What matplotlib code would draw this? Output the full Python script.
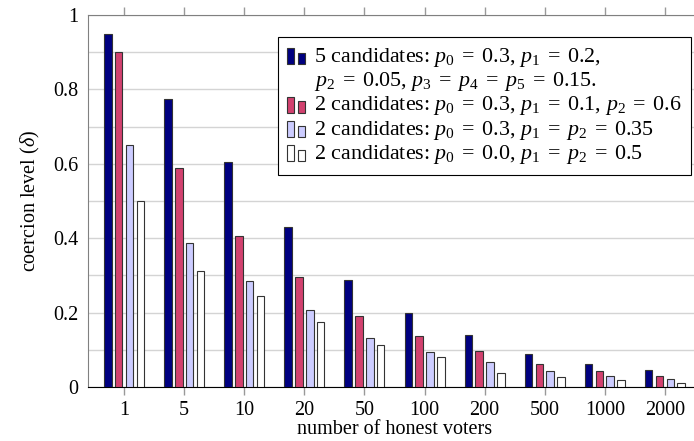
import matplotlib
matplotlib.use("Agg")
import matplotlib.pyplot as plt
from matplotlib.patches import Rectangle
from matplotlib.legend_handler import HandlerBase
from matplotlib.lines import Line2D
import numpy as np

# data
voters = ["1", "5", "10", "20", "50", "100", "200", "500", "1000", "2000"]
five_cand = [0.95, 0.774, 0.605, 0.431, 0.288, 0.198, 0.141, 0.089, 0.063, 0.046]
two_cand_a = [0.90, 0.588, 0.406, 0.297, 0.191, 0.137, 0.097, 0.062, 0.043, 0.030]
two_cand_b = [0.65, 0.386, 0.286, 0.208, 0.133, 0.095, 0.067, 0.043, 0.030, 0.021]
two_cand_c = [0.50, 0.312, 0.245, 0.176, 0.113, 0.081, 0.038, 0.026, 0.019, 0.012]

labels = [
    r"5 candidates: $p_0\;=\;0.3,\, p_1\;=\;0.2,$",
    r"$p_2\;=\;0.05,\, p_3\;=\;p_4\;=\;p_5\;=\;0.15.$",
    r"2 candidates: $p_0\;=\;0.3,\, p_1\;=\;0.1,\, p_2\;=\;0.6$",
    r"2 candidates: $p_0\;=\;0.3,\, p_1\;=\;p_2\;=\;0.35$",
    r"2 candidates: $p_0\;=\;0.0,\, p_1\;=\;p_2\;=\;0.5$",
]
colors = ["#000080", "#d2416f", "#ccccff", "#ffffff"]

plt.rcParams["font.family"] = "Liberation Serif"
plt.rcParams["mathtext.fontset"] = "custom"
plt.rcParams["mathtext.rm"] = "Liberation Serif"
plt.rcParams["mathtext.it"] = "Liberation Serif:italic"
plt.rcParams["mathtext.bf"] = "Liberation Serif:bold"

FS = 14.5


class TwoBars(HandlerBase):
    # pgfplots style legend image: two small bars
    def create_artists(self, legend, orig_handle, xdescent, ydescent,
                       width, height, fontsize, trans):
        fc = orig_handle.get_facecolor()
        ec = orig_handle.get_edgecolor()
        w = width * 0.36
        r1 = Rectangle((-xdescent, -ydescent - 0.15 * height), w, height * 1.05,
                       facecolor=fc, edgecolor=ec, lw=0.8, transform=trans)
        r2 = Rectangle((-xdescent + width * 0.6, -ydescent - 0.15 * height), w, height * 0.75,
                       facecolor=fc, edgecolor=ec, lw=0.8, transform=trans)
        return [r1, r2]


fig = plt.figure(figsize=(6.94, 4.41), dpi=100)
ax = fig.add_axes([88 / 694, 1 - 387 / 441, 613 / 694, 372 / 441])

x = np.arange(len(voters))
bw = 0.125
offs = [-0.27, -0.09, 0.09, 0.27]
series = [five_cand, two_cand_a, two_cand_b, two_cand_c]
bars = []
for s, off, c in zip(series, offs, colors):
    b = ax.bar(x + off, s, bw, color=c, edgecolor="#333333", linewidth=0.8, zorder=3)
    bars.append(b[0])

ax.set_xlim(-0.6, len(voters) - 0.4)
ax.set_ylim(0, 1)
ax.set_yticks(np.arange(0, 1.01, 0.2))
ax.set_yticklabels(["0", "0.2", "0.4", "0.6", "0.8", "1"])
ax.set_yticks(np.arange(0, 1.01, 0.1), minor=True)
ax.grid(True, which="both", axis="y", color="#d4d4d4", lw=1.0, zorder=0)
ax.set_xticks(x)
ax.set_xticklabels(voters)
ax.tick_params(axis="x", direction="out", length=6, width=1, color="#999999",
               top=True, labelsize=FS, pad=4)
ax.tick_params(axis="y", which="both", length=0, labelsize=FS, pad=7)

for side in ["left", "top"]:
    ax.spines[side].set_color("#808080")
ax.spines["bottom"].set_color("black")
ax.spines["right"].set_visible(False)

ax.set_xlabel("number of honest voters", fontsize=FS, labelpad=0)
ax.set_ylabel(r"coercion level ($\delta$)", fontsize=FS, labelpad=8)

handles = [bars[0], Line2D([], [], linestyle="none"), bars[1], bars[2], bars[3]]
leg = ax.legend(handles, labels, loc="upper right",
                bbox_to_anchor=(691 / 694, 1 - 37 / 441), bbox_transform=fig.transFigure,
                borderaxespad=0, fancybox=False, framealpha=1, fontsize=15.8,
                handler_map={type(bars[0]): TwoBars()},
                handlelength=0.85, handletextpad=0.4, labelspacing=0.06,
                borderpad=0.4)
leg.get_frame().set_edgecolor("black")
leg.get_frame().set_linewidth(0.8)
leg.set_zorder(5)

plt.savefig("out.png", dpi=100)
